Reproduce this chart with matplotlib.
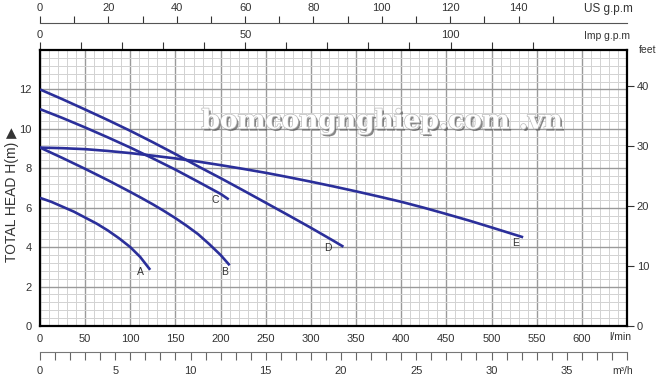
import numpy as np
import matplotlib
matplotlib.use('Agg')
from matplotlib import pyplot as plt
from matplotlib import patheffects as pe

plt.rcParams['font.family'] = ['Liberation Sans', 'DejaVu Sans']

# flow in l/min, head in m
flow_a = [0, 12.5, 25, 37.5, 50, 62.5, 75, 87.5, 100, 111, 122]
head_a = [6.5, 6.3, 6.05, 5.8, 5.5, 5.2, 4.85, 4.45, 4.0, 3.5, 2.85]
flow_b = [0, 25, 50, 75, 100, 112.5, 125, 137.5, 150, 162.5, 175, 187.5, 200, 210]
head_b = [9.05, 8.52, 7.97, 7.4, 6.8, 6.49, 6.17, 5.83, 5.47, 5.08, 4.66, 4.15, 3.6, 3.08]
flow_c = [0, 25, 50, 75, 100, 125, 150, 175, 200, 209]
head_c = [11.0, 10.55, 10.07, 9.57, 9.05, 8.5, 7.93, 7.32, 6.7, 6.42]
flow_d = [0, 25, 50, 75, 100, 125, 150, 175, 200, 225, 250, 275, 300, 325, 336]
head_d = [12.0, 11.5, 10.98, 10.45, 9.9, 9.32, 8.72, 8.1, 7.5, 6.88, 6.25, 5.62, 4.98, 4.32, 4.02]
flow_e = [0, 25, 50, 75, 100, 125, 150, 175, 200, 225, 250, 275, 300, 325,
          350, 375, 400, 425, 450, 475, 500, 535]
head_e = [9.05, 9.02, 8.97, 8.88, 8.77, 8.64, 8.5, 8.34, 8.16, 7.97, 7.77, 7.55, 7.32, 7.08,
          6.83, 6.57, 6.3, 6.0, 5.68, 5.35, 5.0, 4.5]

curve_names = ['A', 'B', 'C', 'D', 'E']
label_flow = [111, 204, 194, 319, 527]
label_head = [2.75, 2.75, 6.4, 3.98, 4.2]

XMAX = 650
YMAX = 14
LINE = '#2b2f9a'
TXT = '#333333'

fig = plt.figure(figsize=(6.59, 3.85), dpi=100)
W, H = 659, 385
ax = fig.add_axes([40 / W, (H - 326) / H, 587 / W, 276 / H])

curves = [(flow_a, head_a), (flow_b, head_b), (flow_c, head_c),
          (flow_d, head_d), (flow_e, head_e)]
for (q, h) in curves:
    ax.plot(q, h, color=LINE, lw=1.9, solid_capstyle='butt', solid_joinstyle='round', zorder=3)
for name, q, h in zip(curve_names, label_flow, label_head):
    ax.text(q, h, name, fontsize=7.5, color=TXT, ha='center', va='center', zorder=4)

ax.set_xlim(0, XMAX)
ax.set_ylim(0, YMAX)
ax.set_xticks(np.arange(0, 601, 50))
ax.set_xticks(np.arange(0, XMAX + 1, 10), minor=True)
ax.set_yticks(np.arange(0, 13, 2))
ax.set_yticks(np.arange(0, YMAX + 0.01, 0.4), minor=True)
ax.grid(which='major', color='#9a9a9a', lw=1.0, zorder=1)
ax.grid(which='minor', color='#d2d2d2', lw=0.7, zorder=0)
ax.set_axisbelow(True)
ax.tick_params(which='both', length=0, labelsize=8, labelcolor=TXT)
ax.tick_params(axis='x', pad=6)
ax.tick_params(axis='y', pad=6)
for s in ax.spines.values():
    s.set_linewidth(1.6)
    s.set_color('black')

# feet on the right
ft = ax.secondary_yaxis('right', functions=(lambda m: m * 3.2808, lambda f: f / 3.2808))
ft.set_yticks([0, 10, 20, 30, 40])
ft.tick_params(length=5, width=0.8, color=TXT, labelsize=8, labelcolor=TXT, pad=2)
ft.spines['right'].set_visible(False)

# Imp g.p.m along the top of the frame
imp = ax.secondary_xaxis('top', functions=(lambda l: l / 4.546, lambda g: g * 4.546))
imp_ticks = np.arange(0, 121, 10)
imp.set_xticks(imp_ticks)
imp.set_xticklabels([str(t) if t % 50 == 0 else '' for t in imp_ticks])
imp.tick_params(length=6, width=0.8, color=TXT, labelsize=8, labelcolor=TXT, pad=1)
imp.spines['top'].set_visible(False)

# US g.p.m scale above
us = fig.add_axes([40 / W, (H - 23) / H, 587 / W, 0.0001])
us.set_xlim(0, XMAX / 3.785)
us.set_yticks([])
for k in ['left', 'right', 'bottom']:
    us.spines[k].set_visible(False)
us.spines['top'].set_color('#555555')
us.spines['top'].set_linewidth(0.8)
us.xaxis.tick_top()
us_ticks = np.arange(0, 151, 10)
us.set_xticks(us_ticks)
us.set_xticklabels([str(t) if t % 20 == 0 else '' for t in us_ticks])
us.tick_params(length=5, width=0.8, color=TXT, labelsize=8, labelcolor=TXT, pad=2)
us.patch.set_visible(False)

# m3/h scale below
cm = fig.add_axes([40 / W, (H - 352) / H, 587 / W, 0.0001])
cm.set_xlim(0, XMAX * 60 / 1000)
cm.set_yticks([])
for k in ['left', 'right', 'top']:
    cm.spines[k].set_visible(False)
cm.spines['bottom'].set_color('#777777')
cm.spines['bottom'].set_linewidth(0.8)
cm_ticks = np.arange(0, 40, 1)
cm.set_xticks(cm_ticks)
cm.set_xticklabels([str(t) if t % 5 == 0 else '' for t in cm_ticks])
cm.tick_params(length=6, width=0.8, color='#666666', labelsize=8, labelcolor=TXT, pad=4)
cm.patch.set_visible(False)

# unit labels
fig.text(608 / W, 1 - 9 / H, 'US g.p.m', fontsize=8.5, color=TXT, ha='center', va='center')
fig.text(607 / W, 1 - 36 / H, 'Imp g.p.m', fontsize=7.5, color=TXT, ha='center', va='center')
fig.text(648 / W, 1 - 50 / H, 'feet', fontsize=7.5, color=TXT, ha='center', va='center')
fig.text(620 / W, 1 - 337 / H, 'l/min', fontsize=7.5, color=TXT, ha='center', va='center')
fig.text(623 / W, 1 - 371 / H, 'm³/h', fontsize=7.5, color=TXT, ha='center', va='center')
fig.text(12 / W, 1 - 195 / H, 'TOTAL HEAD H(m) \u25B6', fontsize=10, color=TXT,
         rotation=90, ha='center', va='center')

# watermark
fig.text(382 / W, 1 - 121 / H, 'bomcongnghiep.com .vn', fontsize=19,
         family='DejaVu Serif', weight='bold', color='white', ha='center', va='center',
         path_effects=[pe.withSimplePatchShadow(offset=(1.5, -1.5), shadow_rgbFace='#555555', alpha=0.7),
                       pe.withStroke(linewidth=1, foreground='#bbbbbb')])

fig.savefig('out.png', dpi=100)
